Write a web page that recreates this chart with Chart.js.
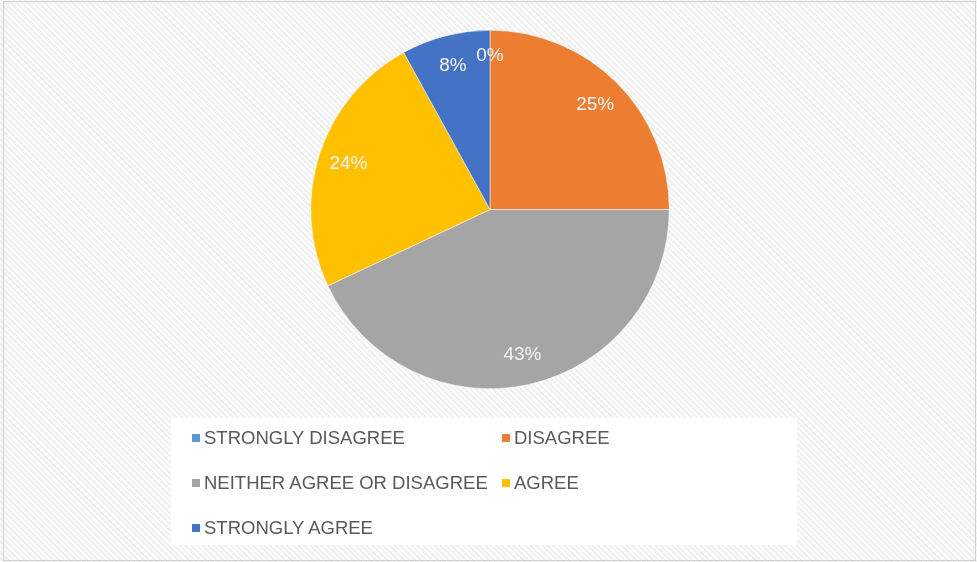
<!DOCTYPE html>
<html>
<head>
<meta charset="utf-8">
<script src="https://cdn.jsdelivr.net/npm/chart.js@4.4.1/dist/chart.umd.min.js"></script>
<style>
    html, body {
        margin: 0;
        padding: 0;
    }
    body {
        width: 977px;
        height: 562px;
        overflow: hidden;
        position: relative;
        background-color: #f6f6f6;
        background-image: repeating-linear-gradient(45deg, #fbfbfb 0px, #fbfbfb 2px, #f1f1f1 2px, #f1f1f1 4px);
    }
    #frame {
        position: absolute;
        left: 3px;
        top: 1px;
        width: 971px;
        height: 558px;
        border: 1px solid #d0d0d0;
    }
    #legendBox {
        position: absolute;
        left: 171px;
        top: 418px;
        width: 626px;
        height: 127px;
        background: #ffffff;
    }
    .legend-item {
        position: absolute;
        font-family: 'Liberation Sans', Arial, sans-serif;
        font-size: 18.5px;
        color: #595959;
        white-space: nowrap;
        line-height: 20px;
    }
    .legend-item span.box {
        display: inline-block;
        width: 8px;
        height: 8px;
        margin-right: 4px;
        vertical-align: 2px;
    }
    #pieCanvas {
        position: absolute;
        left: 0;
        top: 0;
    }
</style>
</head>
<body>
<div id="frame"></div>
<div id="legendBox"></div>
<div id="chartWrap" style="position:absolute;left:0;top:0;width:977px;height:562px;">
    <canvas id="pieCanvas"></canvas>
</div>
<div id="legend"></div>

<script>
// chart data
const categories = ['STRONGLY DISAGREE', 'DISAGREE', 'NEITHER AGREE OR DISAGREE', 'AGREE', 'STRONGLY AGREE'];
const percentages = [0, 25, 43, 24, 8];
const sliceColors = ['#5B9BD5', '#ED7D31', '#A5A5A5', '#FFC000', '#4472C4'];

// legend positions (two columns, three rows)
const legendCols = [192, 502];
const legendRows = [428, 473, 518];

// Draw percent labels inside each slice, Excel style
const sliceLabelPlugin = {
    id: 'sliceLabels',
    afterDatasetsDraw(chart) {
        const ctx = chart.ctx;
        const meta = chart.getDatasetMeta(0);
        ctx.save();
        ctx.font = '19px "Liberation Sans", Arial, sans-serif';
        ctx.fillStyle = '#f4f4f4';
        ctx.textAlign = 'center';
        ctx.textBaseline = 'middle';
        meta.data.forEach((arc, i) => {
            const mid = (arc.startAngle + arc.endAngle) / 2;
            const r = arc.outerRadius * (percentages[i] === 0 ? 0.86 : 0.83);
            const x = arc.x + Math.cos(mid) * r;
            const y = arc.y + Math.sin(mid) * r;
            ctx.fillText(percentages[i] + '%', x, y);
        });
        ctx.restore();
    }
};

const ctx = document.getElementById('pieCanvas').getContext('2d');

const pieChart = new Chart(ctx, {
    type: 'pie',
    data: {
        labels: categories,
        datasets: [{
            data: percentages,
            backgroundColor: sliceColors,
            borderColor: '#ffffff',
            borderWidth: 0.5
        }]
    },
    options: {
        responsive: true,
        maintainAspectRatio: false,
        animation: false,
        layout: {
            padding: {
                top: 30,
                bottom: 173,
                left: 3,
                right: 0
            }
        },
        plugins: {
            legend: {
                display: false
            },
            tooltip: {
                enabled: false
            }
        }
    },
    plugins: [sliceLabelPlugin]
});

// Build the legend from the same arrays
const legendEl = document.getElementById('legend');
categories.forEach((name, i) => {
    const item = document.createElement('div');
    item.className = 'legend-item';
    item.style.left = legendCols[i % 2] + 'px';
    item.style.top = legendRows[Math.floor(i / 2)] + 'px';
    item.innerHTML = '<span class="box" style="background:' + sliceColors[i] + '"></span>' + name;
    legendEl.appendChild(item);
});
</script>
</body>
</html>
